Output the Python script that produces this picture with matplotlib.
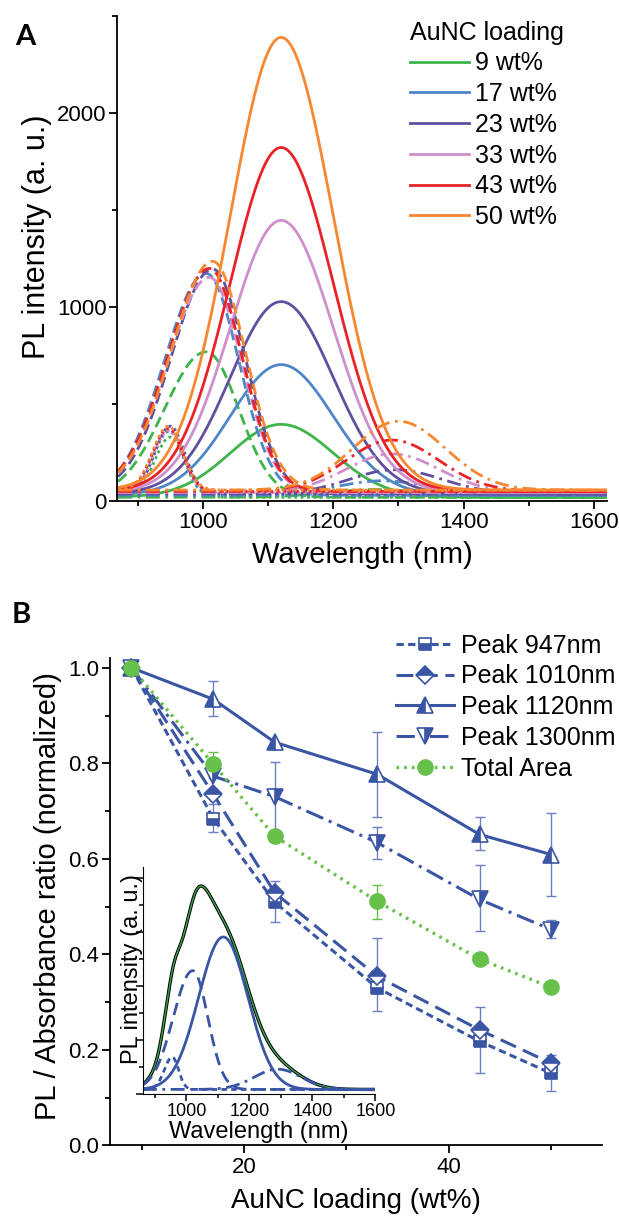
import numpy as np
import matplotlib
matplotlib.use('Agg')
import matplotlib.pyplot as plt
from matplotlib.ticker import MultipleLocator

plt.rcParams['font.family'] = ['Liberation Sans', 'DejaVu Sans']

# ---- panel A: fitted PL components for each AuNC loading ----
loadings = ['9 wt%', '17 wt%', '23 wt%', '33 wt%', '43 wt%', '50 wt%']
colors = ['#3db54a', '#4f86c6', '#60509f', '#cf8fcb', '#ea2228', '#f7882f']
baseline = [18, 28, 35, 42, 48, 55]
amp_947 = [310, 330, 350, 320, 325, 330]
amp_1010 = [750, 1145, 1160, 1110, 1150, 1180]
amp_1120 = [376, 674, 992, 1404, 1774, 2335]
amp_1300 = [40, 75, 125, 200, 265, 355]
pos_947 = [950, 948, 950, 948, 947, 947]
pos_1010 = [1005, 1005, 1015, 1010, 1010, 1015]
pos_1120 = [1120, 1120, 1120, 1120, 1120, 1120]
pos_1300 = [1265, 1275, 1295, 1290, 1290, 1300]
# left / right widths (nm) of each band
wid_947 = (24, 22)
wid_1010 = (64, 50)
wid_1120 = (78, 80)
wid_1300 = (70, 72)

# ---- panel B: normalised PL / absorbance ratio ----
load_wt = [9, 17, 23, 33, 43, 50]
r947 = [1.0, 0.684, 0.509, 0.330, 0.218, 0.151]
r1010 = [1.0, 0.735, 0.529, 0.354, 0.242, 0.172]
r1120 = [1.0, 0.934, 0.844, 0.777, 0.651, 0.609]
r1300 = [1.0, 0.773, 0.730, 0.634, 0.515, 0.452]
rtotal = [1.0, 0.798, 0.647, 0.511, 0.390, 0.331]
# error bars (x, low, high)
err947 = [(17, 0.656, 0.714), (23, 0.467, 0.553), (33, 0.282, 0.434),
          (43, 0.151, 0.289), (50, 0.113, 0.190)]
err1120 = [(17, 0.899, 0.972), (33, 0.687, 0.865), (43, 0.618, 0.688),
           (50, 0.522, 0.696)]
err1300 = [(23, 0.647, 0.802), (33, 0.599, 0.666), (43, 0.450, 0.588),
           (50, 0.434, 0.473)]
errtotal = [(17, 0.770, 0.823), (33, 0.474, 0.546)]

# ---- inset: one fitted spectrum ----
ins_base = 0.17
ins_bands = [  # amp, centre, left width, right width
    (1.2, 955, 25, 20),
    (4.4, 1020, 62, 48),
    (5.65, 1117, 78, 78),
    (0.75, 1290, 75, 75),
]

BLUE = '#3b55a5'
EBLUE = '#6d7fc6'
GREEN = '#66c04a'


def band(x, amp, c, wl, wr):
    w = np.where(x < c, wl, wr)
    return amp * np.exp(-(x - c) ** 2 / (2.0 * w ** 2))


def style_axis(ax):
    ax.spines['top'].set_visible(False)
    ax.spines['right'].set_visible(False)
    for s in ('left', 'bottom'):
        ax.spines[s].set_linewidth(1.3)
    ax.tick_params(which='major', direction='out', length=6, width=1.3,
                   labelsize=16, pad=2)
    ax.tick_params(which='minor', direction='out', length=3.5, width=1.3)


fig = plt.figure(figsize=(6.19, 12.16), dpi=100)

# ================= panel A =================
axA = fig.add_axes([0.1898, 0.5882, 0.7908, 0.3986])
wl = np.arange(870, 1621, 1.0)
ls_dash = (0, (4, 2))
ls_dot = (0, (1, 1.3))
ls_dd = (0, (5, 2, 1, 2))
handles = []
for i, col in enumerate(colors):
    b = baseline[i]
    axA.plot(wl, b + band(wl, amp_947[i], pos_947[i], *wid_947), color=col,
             lw=2, ls=ls_dot)
    axA.plot(wl, b + band(wl, amp_1010[i], pos_1010[i], *wid_1010), color=col,
             lw=2, ls=ls_dash)
    axA.plot(wl, b + band(wl, amp_1300[i], pos_1300[i], *wid_1300), color=col,
             lw=2, ls=ls_dd)
    h, = axA.plot(wl, b + band(wl, amp_1120[i], pos_1120[i], *wid_1120),
                  color=col, lw=2, label=loadings[i])
    handles.append(h)

axA.set_xlim(869, 1620)
axA.set_ylim(0, 2500)
axA.xaxis.set_major_locator(MultipleLocator(200))
axA.xaxis.set_minor_locator(MultipleLocator(100))
axA.yaxis.set_major_locator(MultipleLocator(1000))
axA.yaxis.set_minor_locator(MultipleLocator(500))
style_axis(axA)
axA.set_xlabel('Wavelength (nm)', fontsize=21)
axA.set_ylabel('PL intensity (a. u.)', fontsize=22)
axA.xaxis.set_label_coords(0.5, -0.083)
axA.yaxis.set_label_coords(-0.134, 0.545)
fig.legend(handles=handles, title='AuNC loading', loc='upper left',
           bbox_to_anchor=(0.662, 0.983), frameon=False, fontsize=18,
           title_fontsize=18, alignment='left', handlelength=2.35,
           handletextpad=0.25, labelspacing=0.27, borderpad=0,
           borderaxespad=0)
fig.text(0.024, 0.963, 'A', fontsize=21, fontweight='bold',
         family=['Lato', 'DejaVu Sans'])

# ================= panel B =================
axB = fig.add_axes([0.1782, 0.0580, 0.7950, 0.4007])


def draw_err(ax, errs, y, col):
    xs = [e[0] for e in errs]
    ys = [y[load_wt.index(e[0])] for e in errs]
    lo = [ys[k] - errs[k][1] for k in range(len(errs))]
    hi = [errs[k][2] - ys[k] for k in range(len(errs))]
    ax.errorbar(xs, ys, yerr=[lo, hi], fmt='none', ecolor=col, elinewidth=1,
                capsize=3.5, capthick=1, zorder=2)


draw_err(axB, err947, r947, EBLUE)
draw_err(axB, err1120, r1120, EBLUE)
draw_err(axB, err1300, r1300, EBLUE)
draw_err(axB, errtotal, rtotal, GREEN)

mk = dict(color=BLUE, mec=BLUE, mfc=BLUE, mfcalt='white', lw=2.2, mew=1.2,
          zorder=3)
l1, = axB.plot(load_wt, r947, ls=(0, (2.4, 1.4)), marker='s', ms=9,
               fillstyle='bottom', label='Peak 947nm', **mk)
l2, = axB.plot(load_wt, r1010, ls=(0, (5.5, 2.5)), marker='D', ms=9,
               fillstyle='top', label='Peak 1010nm', **mk)
l3, = axB.plot(load_wt, r1120, ls='-', marker='^', ms=12,
               fillstyle='left', label='Peak 1120nm', **mk)
l4, = axB.plot(load_wt, r1300, ls=(0, (6, 2, 1, 2)), marker='v', ms=12,
               fillstyle='right', label='Peak 1300nm', **mk)
l5, = axB.plot(load_wt, rtotal, ls=(0, (0.8, 1.5)), color=GREEN, lw=2.4,
               marker='o', ms=11, mec=GREEN, mfc=GREEN, zorder=4,
               label='Total Area')

axB.set_xlim(6.93, 55)
axB.set_ylim(0, 1.02)
axB.xaxis.set_major_locator(MultipleLocator(20))
axB.xaxis.set_minor_locator(MultipleLocator(10))
axB.yaxis.set_major_locator(MultipleLocator(0.2))
axB.yaxis.set_minor_locator(MultipleLocator(0.1))
axB.yaxis.set_major_formatter(plt.FuncFormatter(lambda v, p: f'{v:.1f}'))
style_axis(axB)
axB.set_xlabel('AuNC loading (wt%)', fontsize=20)
axB.set_ylabel('PL / Absorbance ratio (normalized)', fontsize=21)
axB.xaxis.set_label_coords(0.5, -0.088)
axB.yaxis.set_label_coords(-0.098, 0.512)
fig.legend(handles=[l1, l2, l3, l4, l5], loc='upper left',
           bbox_to_anchor=(0.640, 0.479), frameon=False, fontsize=18,
           handlelength=2.3, handletextpad=0.3, labelspacing=0.27,
           borderpad=0, borderaxespad=0, numpoints=1)
fig.text(0.018, 0.488, 'B', fontsize=21, fontweight='bold',
         family=['Lato', 'DejaVu Sans'])

# ================= inset =================
axI = fig.add_axes([0.2309, 0.1003, 0.3756, 0.1869])
axI.patch.set_alpha(0)
wi = np.arange(862, 1601, 1.0)
comps = [band(wi, *p) for p in ins_bands]
total = ins_base + sum(comps)
axI.plot(wi, total, color='black', lw=2.4)
axI.plot(wi, total, color='#3aa64a', lw=1.0)
axI.plot(wi, ins_base + comps[0], color=BLUE, lw=2, ls=(0, (2, 1.5)))
axI.plot(wi, ins_base + comps[1], color=BLUE, lw=2, ls=(0, (4.5, 2.5)))
axI.plot(wi, ins_base + comps[2], color=BLUE, lw=2)
axI.plot(wi, ins_base + comps[3], color=BLUE, lw=2, ls=(0, (5, 2, 1, 2)))
axI.set_xlim(862, 1600)
axI.set_ylim(0, 8.42)
axI.xaxis.set_major_locator(MultipleLocator(200))
axI.xaxis.set_minor_locator(MultipleLocator(100))
axI.yaxis.set_major_locator(MultipleLocator(2))
axI.yaxis.set_minor_locator(MultipleLocator(1))
axI.spines['top'].set_visible(False)
axI.spines['right'].set_visible(False)
axI.tick_params(which='major', direction='out', length=5, width=1.1,
                labelsize=13, pad=1.5)
axI.tick_params(which='minor', direction='out', length=3, width=1.1)
axI.tick_params(axis='y', labelleft=False)
axI.set_xlabel('Wavelength (nm)', fontsize=17)
axI.set_ylabel('PL intensity (a. u.)', fontsize=17)
axI.xaxis.set_label_coords(0.5, -0.12)
axI.yaxis.set_label_coords(0.0, 0.548)

fig.savefig('out.png', dpi=100)
